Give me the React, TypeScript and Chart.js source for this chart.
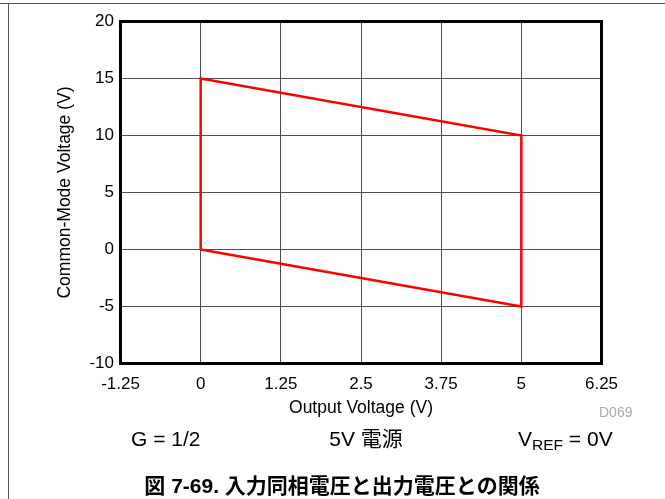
import React, { useEffect, useRef } from "react";
import { Chart, registerables } from "chart.js";

Chart.register(...registerables);

// ---- data ----
const outputVoltage = [0, 0, 5, 5, 0];
const commonModeVoltage = [0, 15, 10, -5, 0];

const xTickValues = [-1.25, 0, 1.25, 2.5, 3.75, 5, 6.25];
const xTickLabels = ["-1.25", "0", "1.25", "2.5", "3.75", "5", "6.25"];
const yTickValues = [-10, -5, 0, 5, 10, 15, 20];
const yTickLabels = ["-10", "-5", "0", "5", "10", "15", "20"];

const xAxisTitle = "Output Voltage (V)";
const yAxisTitle = "Common-Mode Voltage (V)";
const figureCode = "D069";
const gainNote = "G = 1/2";
const supplyNote = "5V 電源";
const figureTitle = "図 7-69. 入力同相電圧と出力電圧との関係";

const LATIN = '"Liberation Sans", Arial, Helvetica, sans-serif';
const MIXED = '"Liberation Sans", Arial, "Noto Sans CJK JP", sans-serif';

const framePlugin = {
  id: "frame",
  afterDraw(chart: any) {
    const { ctx, chartArea: a } = chart;
    ctx.save();
    ctx.strokeStyle = "#000";
    ctx.lineWidth = 3;
    ctx.strokeRect(a.left, a.top, a.right - a.left, a.bottom - a.top);
    ctx.restore();
  },
};

export default function App() {
  const ref = useRef<HTMLCanvasElement | null>(null);

  useEffect(() => {
    if (!ref.current) return;
    const chart = new Chart(ref.current, {
      type: "scatter",
      data: {
        datasets: [
          {
            data: outputVoltage.map((x, i) => ({ x, y: commonModeVoltage[i] })),
            borderColor: "#ff0000",
            backgroundColor: "#ff0000",
            borderWidth: 2.5,
            pointRadius: 0,
            showLine: true,
            fill: false,
            tension: 0,
            borderJoinStyle: "miter",
          } as any,
        ],
      },
      options: {
        animation: false,
        responsive: false,
        devicePixelRatio: 1,
        layout: { padding: { left: 0, top: 21.5, right: 63.5, bottom: 75.5 } },
        plugins: { legend: { display: false }, tooltip: { enabled: false } },
        scales: {
          x: {
            type: "linear",
            min: -1.25,
            max: 6.25,
            afterBuildTicks: (s: any) => {
              s.ticks = xTickValues.map((v) => ({ value: v }));
            },
            afterFit: (s: any) => {
              s.height = 60;
            },
            ticks: {
              autoSkip: false,
              maxRotation: 0,
              padding: 11,
              color: "#000",
              font: { family: LATIN, size: 17 },
              callback: (v: any) => {
                const i = xTickValues.indexOf(Number(v));
                return i >= 0 ? xTickLabels[i] : "";
              },
            },
            grid: { color: "#4d4d4d", lineWidth: 1, drawTicks: false },
            border: { display: false },
            title: {
              display: true,
              text: xAxisTitle,
              color: "#000",
              font: { family: LATIN, size: 17.5 },
              padding: { top: 0, bottom: 5 },
            },
          },
          y: {
            type: "linear",
            min: -10,
            max: 20,
            afterBuildTicks: (s: any) => {
              s.ticks = yTickValues.map((v) => ({ value: v }));
            },
            afterFit: (s: any) => {
              s.width = 120.5;
            },
            ticks: {
              autoSkip: false,
              padding: 6.5,
              color: "#000",
              font: { family: LATIN, size: 17 },
              callback: (v: any) => {
                const i = yTickValues.indexOf(Number(v));
                return i >= 0 ? yTickLabels[i] : "";
              },
            },
            grid: { color: "#4d4d4d", lineWidth: 1, drawTicks: false },
            border: { display: false },
            title: {
              display: true,
              text: yAxisTitle,
              color: "#000",
              font: { family: LATIN, size: 17.5 },
              padding: { top: 54.5, bottom: 0 },
            },
          },
        },
      },
      plugins: [framePlugin],
    });
    return () => chart.destroy();
  }, []);

  const noteStyle: React.CSSProperties = {
    position: "absolute",
    top: 428,
    fontFamily: MIXED,
    fontSize: 21,
    lineHeight: "21px",
    color: "#000",
    whiteSpace: "nowrap",
  };

  return (
    <div
      style={{
        position: "absolute",
        left: 0,
        top: 0,
        width: 665,
        height: 499,
        background: "#fff",
        overflow: "hidden",
      }}
    >
      <canvas
        ref={ref}
        width={665}
        height={499}
        style={{ position: "absolute", left: 0, top: 0, width: 665, height: 499, display: "block" }}
      />
      <div style={{ position: "absolute", left: 0, top: 3, width: 665, height: 1, background: "#555" }} />
      <div style={{ position: "absolute", left: 8, top: 3, width: 1, height: 496, background: "#555" }} />
      <div
        style={{
          position: "absolute",
          left: 599,
          top: 405,
          fontFamily: LATIN,
          fontSize: 14,
          lineHeight: "14px",
          color: "#aaa",
          whiteSpace: "nowrap",
        }}
      >
        {figureCode}
      </div>
      <div style={{ ...noteStyle, left: 131 }}>{gainNote}</div>
      <div style={{ ...noteStyle, left: 366, transform: "translateX(-50%)" }}>{supplyNote}</div>
      <div style={{ ...noteStyle, left: 518 }}>
        V
        <span style={{ fontSize: 15.5, verticalAlign: "-4px", lineHeight: 0 }}>REF</span> = 0V
      </div>
      <div
        style={{
          position: "absolute",
          left: 342,
          top: 475,
          transform: "translateX(-50%)",
          fontFamily: MIXED,
          fontSize: 21,
          lineHeight: "21px",
          fontWeight: "bold",
          color: "#000",
          whiteSpace: "nowrap",
        }}
      >
        {figureTitle}
      </div>
    </div>
  );
}
